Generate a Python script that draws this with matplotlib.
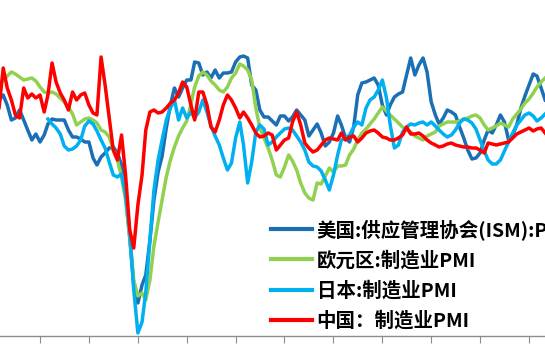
import numpy as np
import pandas as pd
import matplotlib
matplotlib.use('Agg')
import matplotlib.pyplot as plt
import matplotlib.dates as mdates

plt.rcParams['font.family'] = ['Noto Sans CJK SC', 'DejaVu Sans']

# monthly PMI readings, Feb 2006 - May 2017 (Japan starts Mar 2007)
dates = pd.date_range('2006-02-01', '2017-05-01', freq='MS')
dates_jp = pd.date_range('2007-03-01', '2017-05-01', freq='MS')

us_ism = [53.7, 54.5, 55.0, 54.0, 52.5, 52.7, 53.5, 52.5, 51.5, 50.5, 51.1,
          50.3, 51.0, 52.1, 52.6, 52.5, 52.5, 52.5, 51.5, 50.8, 50.8, 50.6, 50.3,
          50.3, 48.7, 48.0, 48.8, 49.2, 49.7, 49.8, 49.2, 48.0, 45.0, 40.7, 36.0,
          34.2, 36.0, 37.0, 40.5, 44.5, 47.3, 48.9, 51.7, 54.0, 55.7, 54.8, 55.7,
          56.5, 56.5, 58.3, 58.2, 57.0, 57.3, 56.7, 57.5, 56.7, 57.2, 57.2, 57.3,
          58.3, 58.8, 58.9, 58.7, 56.0, 55.5, 53.5, 52.8, 52.8, 52.4, 52.0, 52.9,
          52.9, 52.4, 52.8, 53.5, 53.0, 52.5, 50.9, 51.5, 52.1, 51.2, 49.9, 50.3,
          51.2, 52.9, 52.0, 50.7, 50.3, 51.8, 55.0, 56.2, 56.3, 56.5, 56.7, 56.0,
          54.0, 53.0, 54.0, 54.8, 55.1, 55.3, 57.0, 58.7, 57.0, 58.0, 58.7, 57.3,
          54.3, 53.0, 52.1, 52.7, 53.5, 53.3, 53.0, 51.8, 50.7, 49.5, 48.6, 48.7,
          49.2, 50.5, 51.5, 51.2, 52.0, 53.0, 52.3, 50.5, 51.0, 52.0, 53.7, 54.9,
          56.0, 57.1, 56.9, 55.7, 54.5]

euro = [55.7, 56.1, 56.5, 56.9, 57.3, 57.1, 56.8, 56.5, 56.6, 56.7, 56.4,
        55.8, 55.3, 55.2, 55.3, 55.1, 54.7, 54.3, 53.8, 53.1, 52.0, 52.3, 52.6,
        52.7, 52.5, 52.2, 51.5, 51.3, 50.8, 49.5, 48.5, 46.8, 44.5, 40.8, 36.5,
        34.9, 35.2, 34.5, 36.5, 39.9, 42.3, 44.5, 46.8, 48.5, 49.8, 50.9, 51.7,
        52.4, 54.1, 55.8, 56.9, 57.3, 57.0, 56.4, 56.0, 55.5, 55.3, 55.8, 56.7,
        57.2, 58.1, 57.9, 57.5, 56.5, 53.7, 51.7, 50.7, 49.7, 48.5, 47.0, 46.8,
        47.8, 49.0, 48.4, 47.5, 46.2, 45.2, 44.7, 44.5, 46.2, 46.1, 46.9, 47.7,
        47.3, 47.9, 47.9, 48.0, 49.0, 49.6, 50.5, 51.2, 51.6, 52.1, 52.6, 53.2,
        53.8, 53.4, 53.0, 52.6, 52.2, 51.8, 51.5, 51.3, 50.9, 50.7, 50.5, 50.9,
        51.1, 51.3, 51.9, 52.1, 52.3, 52.3, 52.3, 52.4, 52.6, 52.7, 52.9, 53.0,
        52.7, 52.0, 51.5, 51.7, 51.9, 52.2, 52.0, 51.8, 52.6, 53.1, 53.6, 54.2,
        54.6, 55.2, 55.8, 56.3, 56.7]

japan = [52.6, 52.1, 51.7, 51.1, 49.9, 49.5, 49.6, 49.9, 50.5, 51.9,
         52.4, 52.1, 51.4, 50.5, 49.7, 48.3, 47.0, 46.8, 47.1, 45.0, 41.3, 35.5,
         31.2, 32.3, 35.3, 40.5, 45.5, 48.5, 50.5, 52.5, 53.7, 54.5, 52.5, 53.7,
         52.7, 53.3, 52.7, 53.3, 54.5, 53.3, 51.9, 50.9, 50.0, 48.7, 47.5, 48.2,
         50.7, 52.3, 50.0, 46.2, 48.3, 51.3, 52.0, 51.6, 50.0, 50.3, 50.8, 51.2,
         51.6, 51.7, 51.5, 50.9, 50.3, 49.5, 48.3, 47.9, 47.8, 47.4, 46.5, 45.5,
         47.0, 49.0, 50.5, 50.7, 51.0, 51.8, 52.3, 52.0, 53.7, 54.5, 54.8, 55.5,
         56.5, 54.7, 52.0, 49.7, 50.0, 51.3, 51.8, 52.1, 52.0, 52.2, 52.3, 52.0,
         52.3, 51.9, 51.5, 51.1, 50.8, 51.0, 51.5, 52.2, 52.6, 52.5, 52.2, 51.6,
         50.5, 49.4, 48.5, 48.1, 48.1, 48.5, 49.4, 50.3, 51.2, 52.0, 52.5, 53.0,
         53.2, 52.9, 52.4, 52.7, 53.1]

china = [52.7, 53.7, 57.7, 55.7, 54.5, 53.0, 52.7, 55.7, 54.7, 55.1, 54.7,
         55.0, 53.3, 55.0, 58.2, 56.3, 55.2, 54.5, 53.5, 55.3, 54.5, 55.0, 55.2,
         54.0, 53.2, 53.0, 58.8, 56.0, 52.7, 49.5, 48.5, 51.0, 47.0, 41.5, 39.7,
         44.0, 47.0, 51.5, 53.3, 53.5, 53.2, 53.3, 53.7, 54.2, 54.5, 55.2, 56.3,
         55.8, 54.0, 52.5, 55.3, 55.3, 54.0, 51.8, 51.3, 52.5, 54.0, 55.0, 54.5,
         53.7, 52.7, 53.3, 52.7, 52.0, 51.2, 50.8, 50.9, 51.2, 51.0, 49.5, 50.0,
         50.5, 50.7, 52.3, 53.3, 52.0, 50.2, 49.7, 49.3, 49.5, 50.0, 50.5, 50.7,
         50.6, 50.5, 51.2, 50.5, 50.8, 50.9, 50.3, 50.7, 51.2, 51.4, 51.5, 51.2,
         50.8, 50.7, 50.5, 50.5, 50.7, 51.0, 51.8, 51.1, 51.1, 51.2, 50.9, 50.5,
         50.2, 50.0, 49.8, 49.9, 50.1, 50.2, 50.0, 49.9, 49.8, 49.8, 49.7, 49.7,
         49.5, 49.2, 50.2, 50.1, 50.0, 50.1, 50.2, 50.3, 50.7, 51.1, 51.3, 51.5,
         51.7, 51.4, 51.6, 51.7, 51.2]

labels = ['美国:供应管理协会(ISM):PMI', '欧元区:制造业PMI', '日本:制造业PMI', '中国：制造业PMI']
colors = ['#1a6fb5', '#92d050', '#00b0f0', '#ff0000']

fig = plt.figure(figsize=(5.45, 3.55), dpi=100)
ax = fig.add_axes([0, 19 / 355, 1, 336 / 355])

series = [(dates, us_ism), (dates, euro), (dates_jp, japan), (dates, china)]
for (d, vals), lab, col in zip(series, labels, colors):
    ax.plot(d, vals, color=col, lw=2.5, label=lab, solid_joinstyle='round')

ax.set_xlim(pd.Timestamp('2006-03-08'), pd.Timestamp('2017-04-30'))
ax.set_ylim(30.9, 64.5)

for s in ['top', 'left', 'right']:
    ax.spines[s].set_visible(False)
ax.spines['bottom'].set_color('#8c8c8c')
ax.spines['bottom'].set_linewidth(1.0)
ax.xaxis.set_major_locator(mdates.YearLocator())
ax.tick_params(axis='x', direction='out', length=5, color='#8c8c8c', labelbottom=False)
ax.set_yticks([])

leg = ax.legend(loc='upper left', bbox_to_anchor=(271 / 545, 1 - 219 / 355),
                bbox_transform=fig.transFigure, frameon=False,
                prop={'size': 14, 'weight': 'bold'},
                handlelength=2.1, handletextpad=0.25, labelspacing=0.55,
                borderpad=0, borderaxespad=0)
for line in leg.get_lines():
    line.set_linewidth(3)

fig.savefig('out.png', dpi=100)
